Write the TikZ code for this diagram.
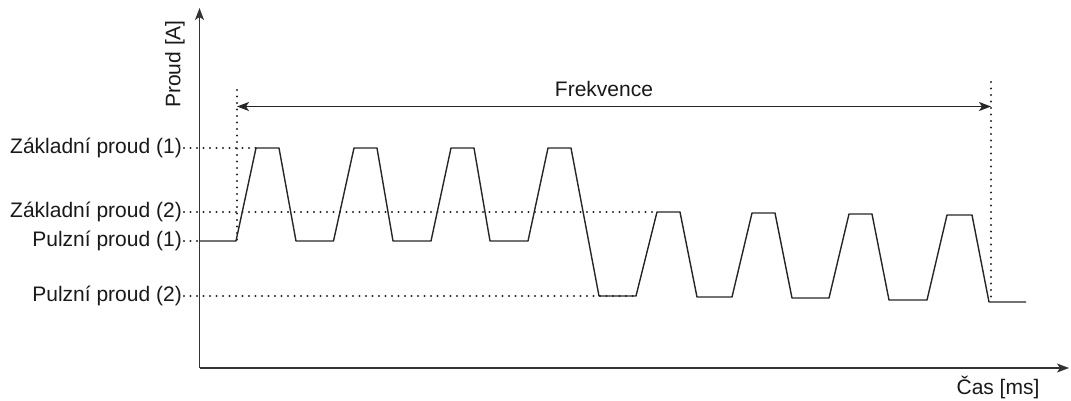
\documentclass[tikz,border=0pt]{standalone}
\usepackage{fontspec}
\setmainfont{Liberation Sans}
\usetikzlibrary{arrows.meta}
\begin{document}
\begin{tikzpicture}[x=1pt,y=-1pt,
  >={Stealth[length=12pt,width=9pt,inset=3pt]},
  lbl/.style={font=\fontsize{21}{25}\selectfont, inner sep=2pt, text=black!90},
  dots/.style={line width=2.2pt, line cap=round, dash pattern=on 0pt off 6.5pt, black!85},
  wave/.style={line width=1.4pt, black!85, line join=round},
  axisline/.style={line width=1.5pt, black!80},
]
\useasboundingbox (0,0) rectangle (1071,401);
% axes
\coordinate (O) at (199.5,368);
\coordinate (Ytop) at (199.5,8);
\coordinate (Xend) at (1069,368);
\draw[axisline,->] (O) -- (Ytop);
\draw[axisline,->] (O) -- (Xend);
\node[lbl, rotate=90] (ylab) at (175,64) {Proud [A]};
\node[lbl] (xlab) at (998,387) {Čas [ms]};
% level labels
\node[lbl, anchor=east] (z1) at (184,148) {Základní proud (1)};
\node[lbl, anchor=east] (z2) at (184,212) {Základní proud (2)};
\node[lbl, anchor=east] (p1) at (184,241) {Pulzní proud (1)};
\node[lbl, anchor=east] (p2) at (184,296) {Pulzní proud (2)};
% waveform key points
\coordinate (w0) at (199.5,241);
\coordinate (r1) at (236,241);
\coordinate (t1) at (256,148);
\coordinate (t5) at (657,212);
\coordinate (b5) at (636,296);
% level dotted lines
\draw[dots] (z1.east) -- (t1);
\draw[dots] (z2.east) -- (t5);
\draw[dots] (p1.east) -- (w0);
\draw[dots] (p2.east) -- (b5);
% frequency markers
\coordinate (fl0) at (237,90);
\coordinate (fl1) at (237,241);
\coordinate (fr0) at (991,82);
\coordinate (fr1) at (991,300);
\draw[dots] (fl0) -- (fl1);
\draw[dots] (fr0) -- (fr1);
\coordinate (FL) at (237,106.5);
\coordinate (FR) at (991,106.5);
\draw[line width=1.3pt, black!85, <->] (FL) -- (FR);
\node[lbl] (frek) at (604,89) {Frekvence};
% waveform
\draw[wave] (w0) -- (r1) -- (t1) -- (279,148) -- (296,241) -- (333.5,241)
  -- (354,148) -- (377,148) -- (393,241) -- (431,241)
  -- (451,148) -- (474,148) -- (490,241) -- (528,241)
  -- (548,148) -- (571,148) -- (599,296) -- (b5)
  -- (t5) -- (680,212) -- (697,297) -- (732,297)
  -- (752,213) -- (775,213) -- (792,298) -- (829,298)
  -- (849,214) -- (872,214) -- (889,300) -- (927,300)
  -- (947,215) -- (972,215) -- (989,302) -- (1026,302);
\end{tikzpicture}
\end{document}
